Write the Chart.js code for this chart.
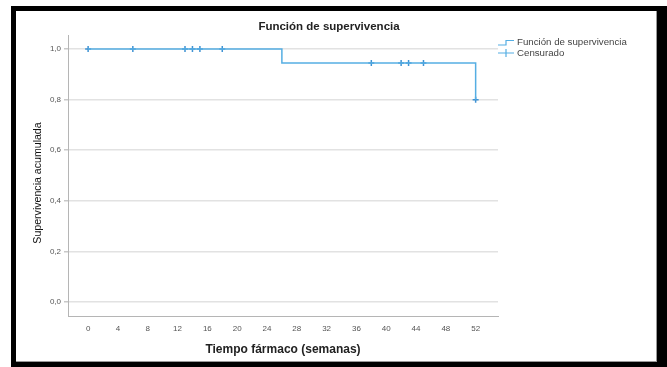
<!DOCTYPE html>
<html>
<head>
<meta charset="utf-8">
<script src="https://cdn.jsdelivr.net/npm/chart.js@4.4.1/dist/chart.umd.min.js"></script>
<style>
  html, body { margin: 0; padding: 0; background: #fff; }
  body { width: 667px; height: 367px; position: relative; overflow: hidden; }
  #frame {
    position: absolute; left: 11px; top: 6px;
    width: 641px; height: 351px;
    border-style: solid; border-color: #000;
    border-width: 5px 10px 5px 5px;
    box-shadow: inset -1px -1px 0 #999;
    background: #fff;
  }
  canvas { display: block; }
</style>
</head>
<body>
<div id="frame"><canvas id="km-chart" width="641" height="351"></canvas></div>
<script>
// Survival curve (Kaplan-Meier step points)
const stepTimes = [0, 26, 52];
const stepSurvival = [1.0, 0.944, 0.799];

// Censored observations
const censoredTimes = [0, 6, 13, 14, 15, 18, 38, 42, 43, 45, 52];
const censoredSurvival = [1.0, 1.0, 1.0, 1.0, 1.0, 1.0, 0.944, 0.944, 0.944, 0.944, 0.799];

// Axis ticks
const xTicks = [0, 4, 8, 12, 16, 20, 24, 28, 32, 36, 40, 44, 48, 52];
const yTicks = [0.0, 0.2, 0.4, 0.6, 0.8, 1.0];

const lineColor = '#55aee3';
const markColor = '#3f93d4';
const fontFamily = '"Liberation Sans", Arial, sans-serif';

const stepData = stepTimes.map((t, i) => ({ x: t, y: stepSurvival[i] }));
const censoredData = censoredTimes.map((t, i) => ({ x: t, y: censoredSurvival[i] }));

// Title, y axis title and legend drawn by hand, SPSS style
const decorPlugin = {
    id: 'decor',
    afterDraw(chart) {
        const ctx = chart.ctx;
        ctx.save();
        // title
        ctx.fillStyle = '#222';
        ctx.font = 'bold 11.5px ' + fontFamily;
        ctx.textAlign = 'center';
        ctx.textBaseline = 'middle';
        ctx.fillText('Función de supervivencia', 313, 16);

        // y axis title (sits a bit below the middle in the original)
        ctx.save();
        ctx.translate(22, 172);
        ctx.rotate(-Math.PI / 2);
        ctx.fillStyle = '#111';
        ctx.font = '10.6px ' + fontFamily;
        ctx.fillText('Supervivencia acumulada', 0, 0);
        ctx.restore();

        // legend item 1: step icon
        ctx.strokeStyle = lineColor;
        ctx.lineWidth = 1.2;
        ctx.beginPath();
        ctx.moveTo(482, 34);
        ctx.lineTo(490, 34);
        ctx.lineTo(490, 29.5);
        ctx.lineTo(498, 29.5);
        ctx.stroke();

        // legend item 2: censor mark
        ctx.beginPath();
        ctx.moveTo(482, 42);
        ctx.lineTo(498, 42);
        ctx.moveTo(490, 38);
        ctx.lineTo(490, 46);
        ctx.stroke();

        ctx.fillStyle = '#444';
        ctx.font = '9.7px ' + fontFamily;
        ctx.textAlign = 'left';
        ctx.fillText('Función de supervivencia', 501, 31.5);
        ctx.fillText('Censurado', 501, 42.5);
        ctx.restore();
    }
};

const ctx = document.getElementById('km-chart').getContext('2d');
const kmChart = new Chart(ctx, {
    type: 'line',
    data: {
        datasets: [
            {
                label: 'Función de supervivencia',
                data: stepData,
                stepped: true,
                borderColor: lineColor,
                borderWidth: 1.5,
                pointRadius: 0,
                fill: false
            },
            {
                label: 'Censurado',
                data: censoredData,
                showLine: false,
                pointStyle: 'cross',
                pointRadius: 3,
                pointBorderWidth: 1.5,
                pointBorderColor: markColor,
                pointBackgroundColor: markColor
            }
        ]
    },
    options: {
        responsive: false,
        animation: false,
        layout: { padding: { left: 0, right: 159, top: 24, bottom: 0 } },
        plugins: {
            legend: { display: false },
            title: { display: false },
            tooltip: { enabled: false }
        },
        scales: {
            x: {
                type: 'linear',
                min: -2.7,
                max: 55,
                afterBuildTicks: (scale) => { scale.ticks = xTicks.map(v => ({ value: v })); },
                afterFit: (scale) => { scale.height = 46; },
                grid: { display: false, drawTicks: false },
                border: { display: true, color: '#b5b5b5', width: 1 },
                ticks: {
                    autoSkip: false,
                    maxRotation: 0,
                    padding: 8,
                    color: '#555',
                    font: { family: fontFamily, size: 8 }
                },
                title: {
                    display: true,
                    text: 'Tiempo fármaco (semanas)',
                    color: '#222',
                    font: { family: fontFamily, size: 12, weight: 'bold', lineHeight: 1.2 },
                    padding: { top: 5, bottom: 5 }
                }
            },
            y: {
                type: 'linear',
                min: -0.055,
                max: 1.055,
                afterBuildTicks: (scale) => { scale.ticks = yTicks.map(v => ({ value: v })); },
                afterFit: (scale) => { scale.width = 52; },
                grid: {
                    color: '#e2e2e2',
                    lineWidth: 1.5,
                    tickLength: 4,
                    tickColor: '#c8c8c8'
                },
                border: { display: true, color: '#b5b5b5', width: 1 },
                ticks: {
                    padding: 3,
                    color: '#555',
                    font: { family: fontFamily, size: 8 },
                    callback: (v) => v.toFixed(1).replace('.', ',')
                },
                title: { display: false }
            }
        }
    },
    plugins: [decorPlugin]
});
</script>
</body>
</html>
